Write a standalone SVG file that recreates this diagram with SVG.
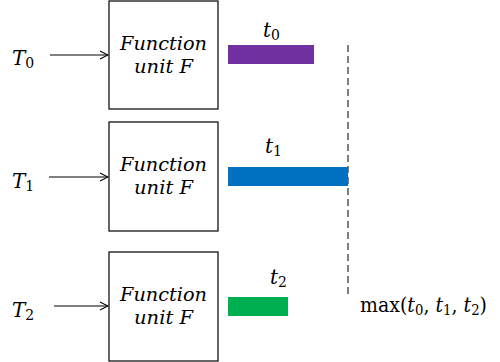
<svg xmlns="http://www.w3.org/2000/svg" width="500" height="362" viewBox="0 0 500 362">
<style>
.box{fill:#fff;stroke:#000;stroke-width:1.2}
.lbl{font-family:"DejaVu Serif",serif;font-style:italic;font-size:18px;fill:#000}
.v{font-family:"DejaVu Serif",serif;font-size:20px;fill:#000}
.i{font-style:italic}
.sub{font-size:14px;font-style:normal}
.arr{stroke:#000;stroke-width:1.2;fill:none}
</style>
<defs>
<marker id="ah" markerWidth="10" markerHeight="10" refX="9" refY="5" orient="auto" markerUnits="userSpaceOnUse">
<path d="M1,1 L9,5 L1,9" fill="none" stroke="#000" stroke-width="1.1"/>
</marker>
</defs>
<rect width="500" height="362" fill="#fff"/>
<g id="connectors">
<line class="arr" x1="50" y1="55" x2="108" y2="55" marker-end="url(#ah)"/>
<line class="arr" x1="49" y1="177" x2="108" y2="177" marker-end="url(#ah)"/>
<line class="arr" x1="54" y1="306" x2="108" y2="306" marker-end="url(#ah)"/>
<line x1="348" y1="45" x2="348" y2="295" stroke="#555" stroke-width="1.5" stroke-dasharray="7,4"/>
</g>
<g id="node-f0">
<rect class="box" x="109" y="1" width="109" height="108"/>
<text class="lbl" x="120" y="50" textLength="87" lengthAdjust="spacingAndGlyphs">Function</text>
<text class="lbl" x="134" y="73" textLength="59" lengthAdjust="spacingAndGlyphs">unit F</text>
</g>
<g id="node-f1">
<rect class="box" x="109" y="122" width="109" height="109"/>
<text class="lbl" x="120" y="171" textLength="87" lengthAdjust="spacingAndGlyphs">Function</text>
<text class="lbl" x="134" y="194" textLength="59" lengthAdjust="spacingAndGlyphs">unit F</text>
</g>
<g id="node-f2">
<rect class="box" x="109" y="252" width="109" height="109"/>
<text class="lbl" x="120" y="301" textLength="87" lengthAdjust="spacingAndGlyphs">Function</text>
<text class="lbl" x="134" y="324" textLength="59" lengthAdjust="spacingAndGlyphs">unit F</text>
</g>
<g id="inputs">
<text class="v" x="12" y="65"><tspan class="i">T</tspan><tspan class="sub" dy="3">0</tspan></text>
<text class="v" x="12" y="188"><tspan class="i">T</tspan><tspan class="sub" dy="3">1</tspan></text>
<text class="v" x="12" y="317"><tspan class="i">T</tspan><tspan class="sub" dy="3">2</tspan></text>
</g>
<g id="bars">
<rect x="228" y="45" width="86" height="19" fill="#7030a0"/>
<rect x="228" y="167" width="120" height="19" fill="#0070c0"/>
<rect x="228" y="297" width="60" height="19" fill="#00b050"/>
<text class="v" x="263" y="37"><tspan class="i">t</tspan><tspan class="sub" dy="3">0</tspan></text>
<text class="v" x="265" y="153"><tspan class="i">t</tspan><tspan class="sub" dy="3">1</tspan></text>
<text class="v" x="270" y="284"><tspan class="i">t</tspan><tspan class="sub" dy="3">2</tspan></text>
<text class="v" x="360" y="312" textLength="127" lengthAdjust="spacingAndGlyphs">max(<tspan class="i">t</tspan><tspan class="sub" dy="3">0</tspan><tspan dy="-3">, </tspan><tspan class="i">t</tspan><tspan class="sub" dy="3">1</tspan><tspan dy="-3">, </tspan><tspan class="i">t</tspan><tspan class="sub" dy="3">2</tspan><tspan dy="-3">)</tspan></text>
</g>
</svg>
